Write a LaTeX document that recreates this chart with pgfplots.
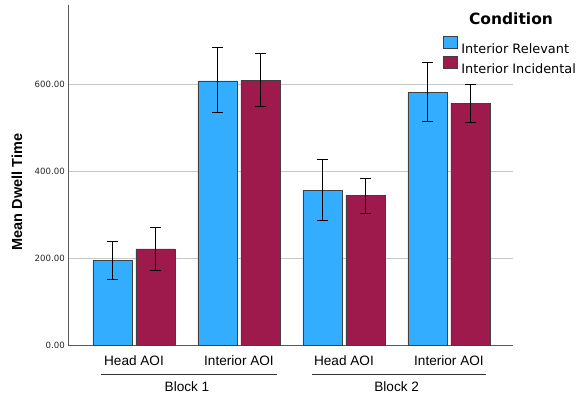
\documentclass[border=0pt]{standalone}
\usepackage{fontspec}
\setmainfont{Liberation Sans}
\newfontfamily\dejavu{DejaVu Sans}
\usepackage{pgfplots}
\pgfplotsset{compat=1.18}
\definecolor{relblue}{RGB}{51,173,255}
\definecolor{incred}{RGB}{158,26,77}

\begin{document}
\begin{tikzpicture}
\begin{axis}[
  name=ax, scale only axis, width=444pt, height=340.7pt,
  xmin=-0.619, xmax=3.61, ymin=0, ymax=781,
  axis x line=bottom, axis y line=left,
  axis line style={-, draw=black!65, line width=1pt},
  ybar=4pt, bar width=39pt,
  xtick={0,1,2,3}, xticklabels={Head AOI, Interior AOI, Head AOI, Interior AOI},
  ytick={0,200,400,600}, yticklabels={0.00,200.00,400.00,600.00},
  major tick length=0pt,
  ymajorgrids, grid style={draw=black!22, line width=0.8pt},
  xticklabel style={font=\fontsize{13.6}{16}\selectfont, anchor=base, yshift=-19.3pt, inner sep=0pt},
  yticklabel style={font=\dejavu\fontsize{8.6}{10}\selectfont, text=black!85, anchor=east, inner sep=0pt, xshift=-4pt},
  ylabel={Mean Dwell Time},
  ylabel style={font=\bfseries\fontsize{14.5}{17}\selectfont, at={(axis description cs:-0.117,0.451)}, anchor=center, rotate=0},
  legend style={font=\dejavu\fontsize{12.9}{14}\selectfont, draw=none, fill=none, inner sep=0pt,
    at={(axis description cs:0.8423,0.909)}, anchor=north west, cells={anchor=west},
    nodes={inner sep=0pt, text depth=0pt}, row sep=2.7pt, column sep=3.5pt},
  legend image code/.code={\draw[#1, line width=0.6pt] (0pt,0pt) rectangle (14pt,12pt);},
  clip=false,
]
\addplot[fill=relblue, draw=black!75, line width=0.7pt,
  error bars/.cd, y dir=both, y explicit,
  error bar style={black, line width=0.9pt},
  error mark options={black, rotate=90, mark size=5.5pt, line width=0.9pt}]
coordinates {
  (0,196) += (0,43) -= (0,43)
  (1,607) += (0,76) -= (0,72)
  (2,356) += (0,72) -= (0,70)
  (3,581) += (0,69) -= (0,67)
};
\addplot[fill=incred, draw=black!75, line width=0.7pt,
  error bars/.cd, y dir=both, y explicit,
  error bar style={black, line width=0.9pt},
  error mark options={black, rotate=90, mark size=5.5pt, line width=0.9pt}]
coordinates {
  (0,222) += (0,48) -= (0,50)
  (1,608) += (0,61) -= (0,60)
  (2,345) += (0,39) -= (0,42)
  (3,556) += (0,44) -= (0,45)
};
\legend{Interior Relevant, Interior Incidental}
\node[font=\dejavu\bfseries\fontsize{15.5}{18}\selectfont, anchor=center] at (axis description cs:0.9955,0.961) {Condition};
\draw[black!80, line width=0.9pt] ([yshift=-28.3pt]axis cs:-0.315,0) -- ([yshift=-28.3pt]axis cs:1.36,0);
\draw[black!80, line width=0.9pt] ([yshift=-28.3pt]axis cs:1.694,0) -- ([yshift=-28.3pt]axis cs:3.351,0);
\node[font=\fontsize{13.6}{16}\selectfont, anchor=base] at ([yshift=-46pt]axis cs:0.505,0) {Block 1};
\node[font=\fontsize{13.6}{16}\selectfont, anchor=base] at ([yshift=-46pt]axis cs:2.502,0) {Block 2};
\end{axis}
\pgfresetboundingbox
\path ([xshift=-69pt,yshift=-51.3pt]ax.south west) rectangle ++(579pt,397pt);
\end{tikzpicture}
\end{document}
